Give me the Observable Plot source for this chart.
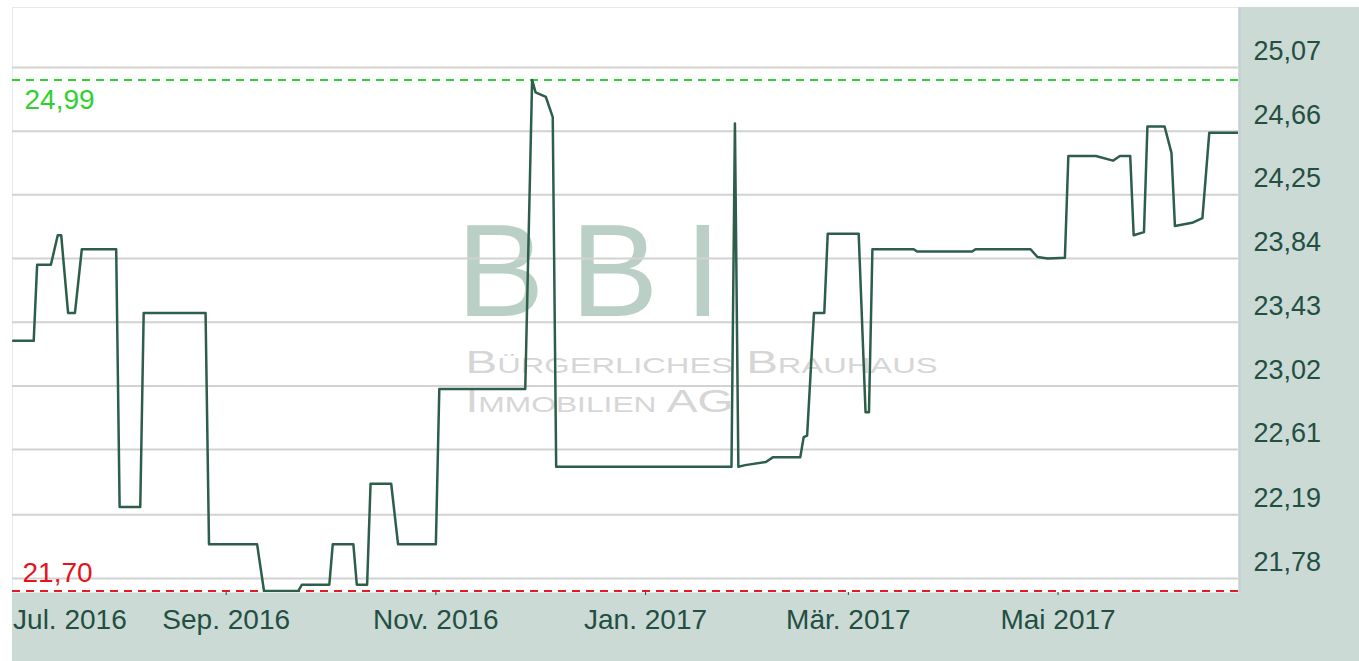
<!DOCTYPE html>
<html>
<head>
<meta charset="utf-8">
<script src="https://cdn.jsdelivr.net/npm/d3@7"></script>
<script src="https://cdn.jsdelivr.net/npm/@observablehq/plot@0.6"></script>
<style>
  html, body { margin: 0; padding: 0; background: #ffffff; }
  #chart svg { display: block; }
</style>
</head>
<body>
<div id="chart"></div>
<script>
// ---- data ----
const dates = [
  "2016-07-01","2016-07-07","2016-07-08","2016-07-12","2016-07-14","2016-07-15",
  "2016-07-17","2016-07-19","2016-07-21","2016-07-31","2016-08-01","2016-08-07",
  "2016-08-08","2016-08-26","2016-08-27","2016-09-10","2016-09-12","2016-09-22",
  "2016-09-23","2016-10-01","2016-10-02","2016-10-08","2016-10-09","2016-10-12",
  "2016-10-13","2016-10-19","2016-10-21","2016-11-01","2016-11-02","2016-11-27",
  "2016-11-29","2016-11-30","2016-12-03","2016-12-05","2016-12-06","2017-01-26",
  "2017-01-27","2017-01-28","2017-01-30","2017-02-05","2017-02-07","2017-02-15",
  "2017-02-16","2017-02-17","2017-02-19","2017-02-22","2017-02-23","2017-03-04",
  "2017-03-06","2017-03-07","2017-03-08","2017-03-20","2017-03-21","2017-04-06",
  "2017-04-07","2017-04-23","2017-04-25","2017-04-28","2017-05-03","2017-05-04",
  "2017-05-12","2017-05-17","2017-05-19","2017-05-22","2017-05-23","2017-05-26",
  "2017-05-27","2017-06-01","2017-06-03","2017-06-04","2017-06-09","2017-06-12",
  "2017-06-14","2017-06-23"
];
const prices = [
  23.31, 23.31, 23.80, 23.80, 23.99, 23.99,
  23.49, 23.49, 23.90, 23.90, 22.24, 22.24,
  23.49, 23.49, 22.00, 22.00, 21.70, 21.70,
  21.74, 21.74, 22.00, 22.00, 21.74, 21.74,
  22.39, 22.39, 22.00, 22.00, 23.00, 23.00,
  24.99, 24.91, 24.88, 24.75, 22.50, 22.50,
  24.71, 22.50, 22.51, 22.53, 22.56, 22.56,
  22.69, 22.70, 23.49, 23.49, 24.00, 24.00,
  22.85, 22.85, 23.90, 23.90, 23.885, 23.885,
  23.90, 23.90, 23.85, 23.84, 23.845, 24.50,
  24.50, 24.47, 24.50, 24.50, 23.99, 24.01,
  24.69, 24.69, 24.52, 24.05, 24.07, 24.10,
  24.65, 24.65
];
const yTicks = [21.78, 22.19, 22.61, 23.02, 23.43, 23.84, 24.25, 24.66, 25.07];
const xTickDates = ["2016-07-01","2016-09-01","2016-11-01","2017-01-01","2017-03-01","2017-05-01"];
const xTickLabels = ["Jul. 2016","Sep. 2016","Nov. 2016","Jan. 2017","Mär. 2017","Mai 2017"];
const highValue = 24.99, highLabel = "24,99";
const lowValue = 21.70, lowLabel = "21,70";
const watermarkTitle = "BBI";
const watermarkLine1 = "Bürgerliches Brauhaus";
const watermarkLine2 = "Immobilien AG";
const xDomain = ["2016-06-30T20:00Z", "2017-06-22T12:00Z"];
const yDomain = [21.69, 25.456];

// ---- build ----
const data = dates.map((d, i) => ({date: new Date(d), price: prices[i]}));
const tickDateObjs = xTickDates.map(d => new Date(d));
const labelByTime = new Map(tickDateObjs.map((d, i) => [+d, xTickLabels[i]]));
const fmtY = d => d3.format(".2f")(d).replace(".", ",");

const panel = "#cbdad4";
const textColor = "#234f43";
const lineColor = "#2c5e4a";

const chart = Plot.plot({
  width: 1359,
  height: 661,
  marginLeft: 12,
  marginRight: 121,
  marginTop: 7,
  marginBottom: 69,
  x: {type: "utc", domain: xDomain.map(d => new Date(d)), label: null},
  y: {domain: yDomain, label: null},
  style: {
    background: `linear-gradient(to right, #ffffff 12px, transparent 12px), linear-gradient(to bottom, #ffffff 7px, ${panel} 7px)`,
    fontFamily: "'Liberation Sans', Arial, sans-serif",
    color: textColor,
    fontSize: "27px"
  },
  marks: [
    Plot.frame({fill: "#ffffff", stroke: null}),
    // watermark
    Plot.text([watermarkTitle], {text: d => d, frameAnchor: "top-left", dx: 444, dy: 215,
      lineAnchor: "top", textAnchor: "start", fontSize: 132, fill: "#b3cbc0", fillOpacity: 0.9}),
    Plot.text([watermarkLine1], {text: d => d, frameAnchor: "top-left", dx: 453, dy: 343,
      lineAnchor: "top", textAnchor: "start", fontSize: 32, fontVariant: "small-caps", fill: "#d6d6d6"}),
    Plot.text([watermarkLine2], {text: d => d, frameAnchor: "top-left", dx: 453, dy: 382,
      lineAnchor: "top", textAnchor: "start", fontSize: 32, fontVariant: "small-caps", fill: "#d6d6d6"}),
    // grid
    Plot.gridY(yTicks, {stroke: "#d2d2d2", strokeOpacity: 1, strokeWidth: 2}),
    // limit lines
    Plot.ruleY([highValue], {stroke: "#2bd42b", strokeWidth: 2, strokeDasharray: "8,6"}),
    Plot.ruleY([lowValue], {stroke: "#e31c24", strokeWidth: 2, strokeDasharray: "8,6"}),
    // price line
    Plot.line(data, {x: "date", y: "price", stroke: lineColor, strokeWidth: 2.5, clip: true}),
    // limit labels
    Plot.text([highValue], {y: d => d, text: () => highLabel, frameAnchor: "left", dx: 12, dy: 20,
      textAnchor: "start", fontSize: 28, fill: "#2fd12f"}),
    Plot.text([lowValue], {y: d => d, text: () => lowLabel, frameAnchor: "left", dx: 10, dy: -18,
      textAnchor: "start", fontSize: 28, fill: "#e3141e"}),
    // right panel border
    Plot.ruleX([new Date(xDomain[1])], {stroke: "#c2ced8", strokeWidth: 2, dx: 1}),
    // axes
    Plot.axisY(yTicks, {anchor: "right", tickSize: 0, tickPadding: 15, dy: -16,
      tickFormat: fmtY, fontSize: 27, textAnchor: "start", label: null}),
    Plot.axisX(tickDateObjs.slice(1), {anchor: "bottom", tickSize: 3, tickPadding: 14,
      tickFormat: d => labelByTime.get(+d), fontSize: 28, label: null}),
    Plot.axisX(tickDateObjs.slice(0, 1), {anchor: "bottom", tickSize: 0, tickPadding: 17,
      tickFormat: d => labelByTime.get(+d), fontSize: 28, textAnchor: "start", label: null})
  ]
});

// text stretching to mimic the reference's wide watermark lettering
d3.select(chart).selectAll("text").each(function() {
  const t = this.textContent;
  if (t === watermarkTitle) d3.select(this).attr("letter-spacing", 26);
  if (t === watermarkLine1) d3.select(this).attr("textLength", 472).attr("lengthAdjust", "spacingAndGlyphs");
  if (t === watermarkLine2) d3.select(this).attr("textLength", 268).attr("lengthAdjust", "spacingAndGlyphs");
});

document.getElementById("chart").appendChild(chart);
</script>
</body>
</html>
